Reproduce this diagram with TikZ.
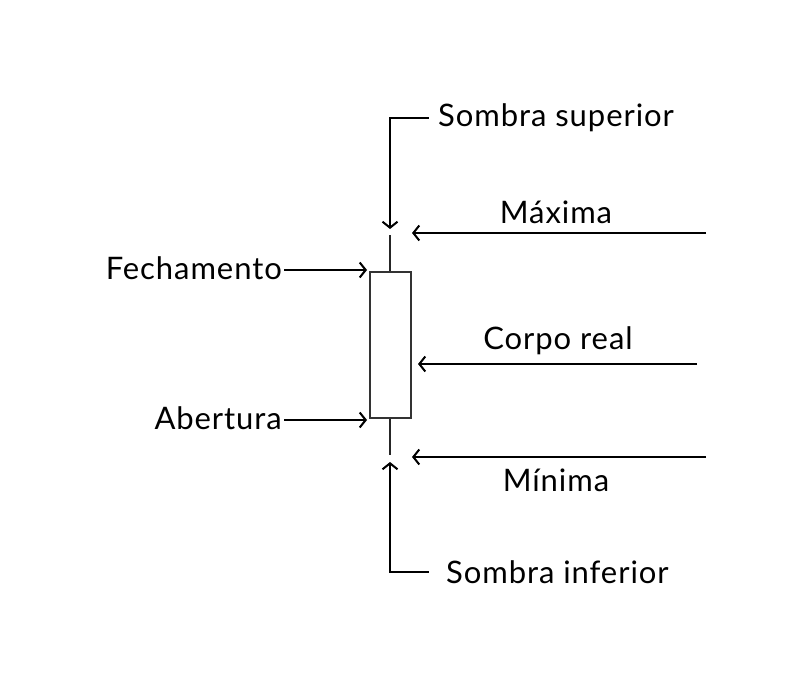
\documentclass[tikz,border=0pt]{standalone}
\usepackage{fontspec}
\setmainfont[LetterSpace=3]{Lato}
\usetikzlibrary{arrows.meta}
\begin{document}
\begin{tikzpicture}[x=1pt,y=-1pt,
  lbl/.style={inner sep=0pt,font=\fontsize{31}{34}\selectfont},
  conn/.style={line width=2pt,-{Straight Barb[length=6pt,width=15pt,line width=2pt]}},
  seg/.style={line width=2pt},
  candle/.style={draw=black!80,line width=2pt,minimum width=41pt,minimum height=146pt,inner sep=0pt}]
\useasboundingbox (0,0) rectangle (810,692);
\node[candle] (body) at (390,345) {};
\coordinate (hi) at (390,235);
\coordinate (lo) at (390,455);
\draw[line width=2pt,black!85] (body.north) -- (hi);
\draw[line width=2pt,black!85] (body.south) -- (lo);
% labels
\node[lbl,anchor=west] (ss) at (438,118) {Sombra superior};
\node[lbl] (max) at (556,212) {Máxima};
\node[lbl,anchor=east] (fech) at (282,268) {Fechamento};
\node[lbl] (cr) at (558,341) {Corpo real};
\node[lbl,anchor=east] (ab) at (282,418) {Abertura};
\node[lbl] (min) at (556,480) {Mínima};
\node[lbl,anchor=west] (si) at (446,572) {Sombra inferior};
% connector endpoints
\coordinate (ssc) at (428,118);
\coordinate (ssk) at (390,118);
\coordinate (sst) at (390,229);
\coordinate (maxs) at (706,233);
\coordinate (maxt) at (412,233);
\coordinate (crs) at (697,364);
\coordinate (crt) at (418,364);
\coordinate (mins) at (706,457);
\coordinate (mint) at (412,457);
\coordinate (sic) at (428,572);
\coordinate (sik) at (390,572);
\coordinate (sit) at (390,462);
\coordinate (fs) at (284,270);
\coordinate (ft) at (367,270);
\coordinate (as) at (284,420);
\coordinate (at) at (367,420);
% connectors
\draw[seg,line cap=rect] (ssc) -- (ssk);
\draw[conn] (ssk) -- (sst);
\draw[conn] (maxs) -- (maxt);
\draw[conn] (crs) -- (crt);
\draw[conn] (mins) -- (mint);
\draw[seg,line cap=rect] (sic) -- (sik);
\draw[conn] (sik) -- (sit);
\draw[conn] (fs) -- (ft);
\draw[conn] (as) -- (at);
\end{tikzpicture}
\end{document}
